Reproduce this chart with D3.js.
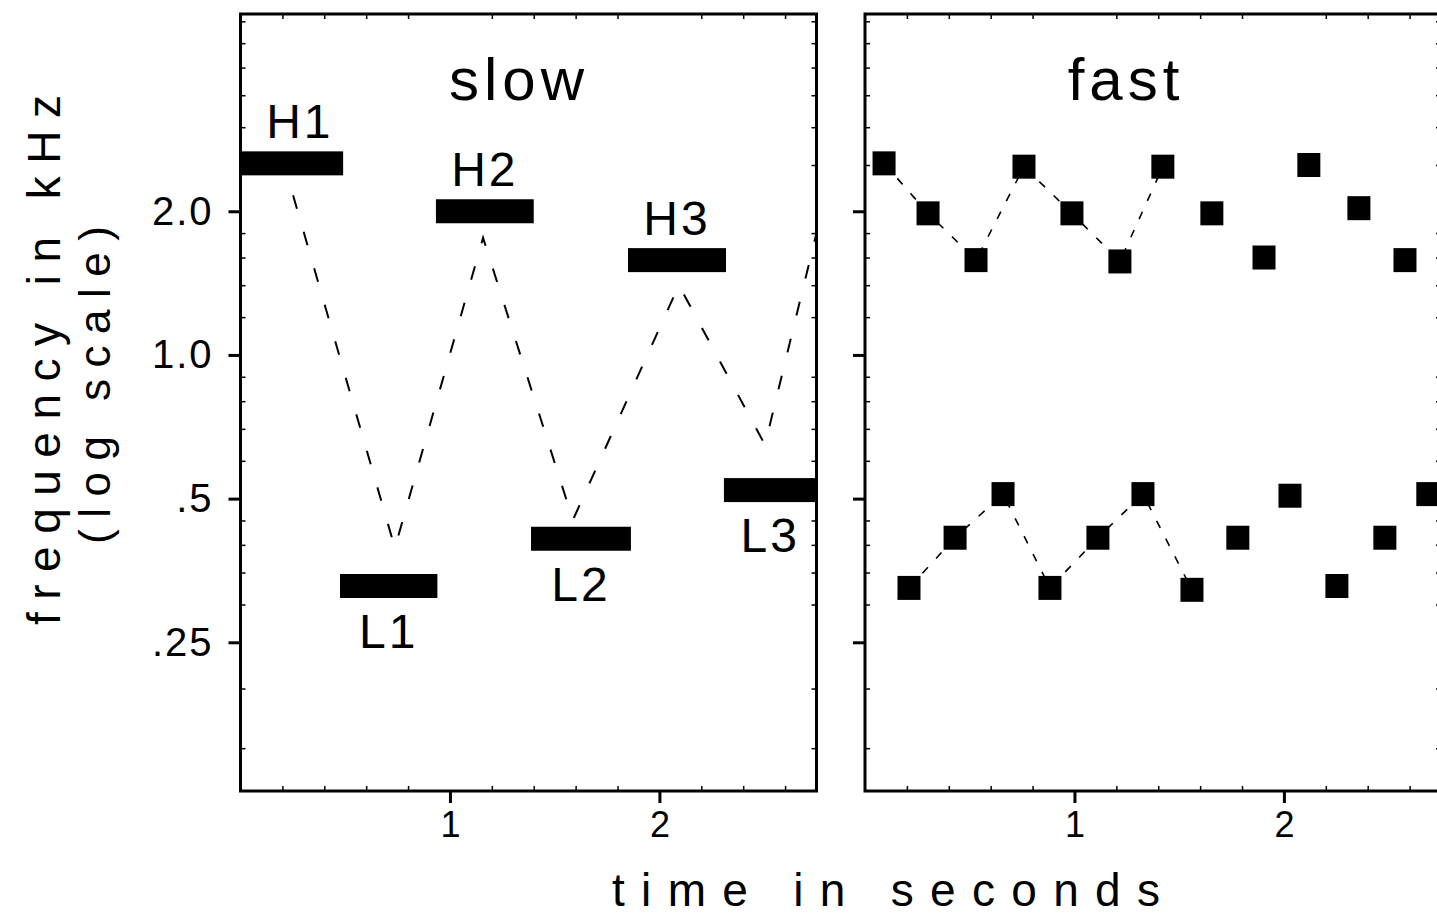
<!DOCTYPE html>
<html><head><meta charset="utf-8">
<script src="https://cdn.jsdelivr.net/npm/d3@7"></script>
<style>html,body{margin:0;padding:0;background:#fff;overflow:hidden}</style>
</head><body><svg id="chart" width="1437" height="915"></svg>
<script>
// ---------- data ----------
const panelTitles = ["slow", "fast"];
// slow panel: tone bars
const slowLabels = ["H1", "L1", "H2", "L2", "H3", "L3"];
const slowStart  = [0.0, 0.475, 0.933, 1.387, 1.850, 2.308];
const slowEnd    = [0.490, 0.940, 1.400, 1.864, 2.318, 2.780];
const slowFreq   = [2.52, 0.328, 2.0, 0.412, 1.58, 0.521];
// slow panel: dashed zig-zag path vertices
const slowPathTime = [0.251, 0.737, 1.158, 1.587, 2.093, 2.504, 2.814];
const slowPathFreq = [2.16, 0.394, 1.76, 0.451, 1.40, 0.648, 2.35];
// fast panel: high stream tones
const fastHighTime = [0.091, 0.301, 0.530, 0.759, 0.988, 1.217, 1.422, 1.656, 1.905, 2.119, 2.358, 2.578];
const fastHighFreq = [2.52, 1.98, 1.58, 2.48, 1.98, 1.57, 2.48, 1.98, 1.60, 2.50, 2.03, 1.58];
// fast panel: low stream tones
const fastLowTime = [0.210, 0.430, 0.659, 0.883, 1.112, 1.327, 1.561, 1.780, 2.029, 2.253, 2.482, 2.687];
const fastLowFreq = [0.325, 0.414, 0.511, 0.325, 0.414, 0.511, 0.322, 0.414, 0.507, 0.328, 0.414, 0.511];
const fastLinkedCount = 7; // dashed connections visible for first tones of each stream
// axes
const yTickValues = [0.25, 0.5, 1, 2];
const yTickLabels = [".25", ".5", "1.0", "2.0"];
const yMinorValues = [0.15, 0.2, 0.3, 0.35, 0.4, 0.45, 0.6, 0.7, 0.8, 0.9, 1.2, 1.4, 1.6, 1.8, 2.5, 3, 3.5, 4, 4.5, 5];
const xTickValues = [1, 2];
const xTickLabels = ["1", "2"];
const xMinorValues = [0.2, 0.4, 0.6, 0.8, 1.2, 1.4, 1.6, 1.8, 2.2, 2.4, 2.6];
const xTitle = "time in seconds";
const yTitle1 = "frequency in kHz";
const yTitle2 = "(log scale)";

// ---------- layout ----------
const font = "'Liberation Sans', Arial, Helvetica, sans-serif";
const svg = d3.select("#chart");
svg.append("rect").attr("width", 1437).attr("height", 915).attr("fill", "#fff");
const topY = 14, bottomY = 791, panelW = 576;
const panelLefts = [240.5, 865];
const panelTitleCenters = [519, 1126];
const y = d3.scaleLog().domain([0.122, 5.18]).range([bottomY, topY]);

panelLefts.forEach((left, pi) => {
  const x = d3.scaleLinear().domain([0, 2.75]).range([left, left + panelW]);
  const g = svg.append("g");
  const clipId = "clip" + pi;
  svg.append("clipPath").attr("id", clipId)
    .append("rect").attr("x", left).attr("y", topY).attr("width", panelW).attr("height", bottomY - topY);

  // minor ticks (inward)
  const minorStyle = sel => { sel.select(".domain").remove(); sel.selectAll("line").attr("stroke", "#000").attr("stroke-width", 1.5); sel.selectAll("text").remove(); };
  g.append("g").attr("transform", `translate(${left},0)`).call(d3.axisLeft(y).tickValues(yMinorValues).tickSize(-5)).call(minorStyle);
  g.append("g").attr("transform", `translate(${left + panelW},0)`).call(d3.axisRight(y).tickValues(yMinorValues).tickSize(-5)).call(minorStyle);
  g.append("g").attr("transform", `translate(0,${bottomY})`).call(d3.axisBottom(x).tickValues(xMinorValues).tickSize(-5)).call(minorStyle);
  g.append("g").attr("transform", `translate(0,${topY})`).call(d3.axisTop(x).tickValues(xMinorValues).tickSize(-5)).call(minorStyle);

  // major y axis
  const yAxis = d3.axisLeft(y).tickValues(yTickValues).tickSize(12).tickPadding(15)
    .tickFormat((d, i) => pi === 0 ? yTickLabels[i] : "");
  const ya = g.append("g").attr("transform", `translate(${left},0)`).call(yAxis);
  ya.select(".domain").remove();
  ya.selectAll("line").attr("stroke", "#000").attr("stroke-width", 3);
  ya.selectAll("text").attr("font-family", font).attr("font-size", 40).attr("fill", "#000").attr("letter-spacing", 2);

  // major x axis
  const xAxis = d3.axisBottom(x).tickValues(xTickValues).tickSize(12).tickPadding(8)
    .tickFormat((d, i) => xTickLabels[i]);
  const xa = g.append("g").attr("transform", `translate(0,${bottomY})`).call(xAxis);
  xa.select(".domain").remove();
  xa.selectAll("line").attr("stroke", "#000").attr("stroke-width", 3);
  xa.selectAll("text").attr("font-family", font).attr("font-size", 36).attr("fill", "#000");

  // frame
  g.append("rect").attr("x", left).attr("y", topY).attr("width", panelW).attr("height", bottomY - topY)
    .attr("fill", "none").attr("stroke", "#000").attr("stroke-width", 3);

  // title
  g.append("text").attr("x", panelTitleCenters[pi]).attr("y", 100).attr("text-anchor", "middle")
    .attr("font-family", font).attr("font-size", 60).attr("fill", "#000")
    .attr("letter-spacing", 5)
    .text(panelTitles[pi]);

  const data = g.append("g").attr("clip-path", `url(#${clipId})`);

  if (pi === 0) {
    const pts = slowPathTime.map((t, i) => [t, slowPathFreq[i]]);
    data.append("path").attr("d", d3.line().x(d => x(d[0])).y(d => y(d[1]))(pts))
      .attr("fill", "none").attr("stroke", "#000").attr("stroke-width", 2)
      .attr("stroke-dasharray", "14,24");
    const bars = slowLabels.map((l, i) => ({l, s: slowStart[i], e: slowEnd[i], f: slowFreq[i]}));
    data.selectAll("rect.bar").data(bars).join("rect").attr("class", "bar")
      .attr("x", d => x(d.s)).attr("width", d => x(d.e) - x(d.s))
      .attr("y", d => y(d.f) - 12).attr("height", 24).attr("fill", "#000");
    g.selectAll("text.lab").data(bars).join("text").attr("class", "lab")
      .attr("x", d => x((d.s + Math.min(d.e, 2.75)) / 2) + (d.s === 0 ? 8 : 0))
      .attr("y", d => d.l[0] === "H" ? y(d.f) - 25 : y(d.f) + 62)
      .attr("text-anchor", "middle").attr("font-family", font).attr("font-size", 48)
      .attr("letter-spacing", 3).attr("fill", "#000")
      .text(d => d.l);
  } else {
    const hi = fastHighTime.map((t, i) => [t, fastHighFreq[i]]);
    const lo = fastLowTime.map((t, i) => [t, fastLowFreq[i]]);
    [hi, lo].forEach(s => {
      data.append("path").attr("d", d3.line().x(d => x(d[0])).y(d => y(d[1]))(s.slice(0, fastLinkedCount)))
        .attr("fill", "none").attr("stroke", "#000").attr("stroke-width", 1.6)
        .attr("stroke-dasharray", "8,12");
    });
    data.selectAll("rect.sq").data(hi.concat(lo)).join("rect").attr("class", "sq")
      .attr("x", d => x(d[0]) - 11.5).attr("y", d => y(d[1]) - 12)
      .attr("width", 23).attr("height", 24).attr("fill", "#000");
  }
});

// axis titles
svg.append("text").attr("x", 612).attr("y", 906).attr("font-family", font).attr("font-size", 46)
  .attr("textLength", 548).attr("lengthAdjust", "spacing").attr("fill", "#000").text(xTitle);
svg.append("text").attr("transform", "translate(60,360) rotate(-90)").attr("text-anchor", "middle")
  .attr("font-family", font).attr("font-size", 46).attr("textLength", 530).attr("lengthAdjust", "spacing")
  .attr("fill", "#000").text(yTitle1);
svg.append("text").attr("transform", "translate(110,385) rotate(-90)").attr("text-anchor", "middle")
  .attr("font-family", font).attr("font-size", 44).attr("textLength", 318).attr("lengthAdjust", "spacing")
  .attr("fill", "#000").text(yTitle2);
</script>
</body></html>
